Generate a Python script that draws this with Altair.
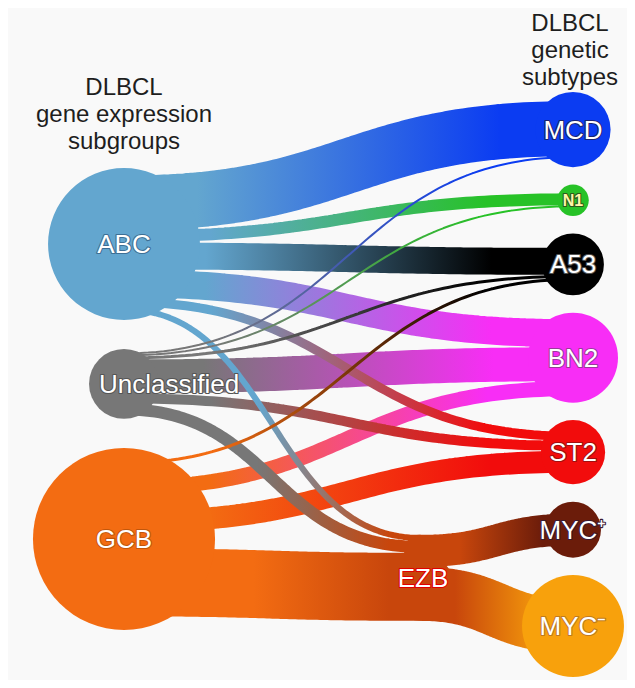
import numpy as np
import pandas as pd
import altair as alt

# ---------------- data ----------------
left_nodes = ["ABC", "Unclassified", "GCB"]
right_nodes = ["MCD", "N1", "A53", "BN2", "ST2", "MYC⁺", "MYC⁻"]
mid_node = "EZB"

# relative case counts, read from the circle areas
circle_nodes = ["ABC", "Unclassified", "GCB", "MCD", "N1", "A53", "BN2", "ST2", "MYC⁺", "MYC⁻"]
circle_cases = [302, 64, 434, 74, 13, 50, 106, 54, 41, 136]

# flows (band widths, in cases)
flow_source = ["ABC"] * 6 + ["Unclassified"] * 6 + ["GCB"] * 4 + ["EZB"] * 2
flow_target = (["MCD", "N1", "A53", "BN2", "ST2", "EZB"] * 2
               + ["A53", "BN2", "ST2", "EZB"] + ["MYC⁺", "MYC⁻"])
flow_cases = [110, 24, 54, 56, 18, 12,
              4, 4, 6, 68, 20, 24,
              6, 30, 44, 136,
              64, 108]

# ---------------- styles ----------------
node_color = {
    "ABC": "#63a6cf", "Unclassified": "#777777", "GCB": "#f36c12",
    "MCD": "#0b3cf2", "N1": "#27c227", "A53": "#000000", "BN2": "#f82df6",
    "ST2": "#f20c0c", "EZB": "#c8460c", "MYC⁺": "#6b1c0a", "MYC⁻": "#f8a10c",
}
outline_color = {
    "ABC": "#3d6f95", "Unclassified": "#555555", "GCB": "#c0560c",
    "MCD": "#1a2470", "N1": "#2d5a1a", "A53": "#555555", "BN2": "#9a3a9a",
    "ST2": "#a01010", "EZB": "#e00000", "MYC⁺": "#3a1a30", "MYC⁻": "#c07a20",
}
FONT = "Liberation Sans"
W, H = 619, 672
K = 76.4          # symbol area (px^2) per case
BAND_PX = 0.5     # band width (px) per case
LEFT_X, MID_X, RIGHT_X = 116, 412, 565
LEFT_SPAN = (160, 622)
RIGHT_SPAN = (84, 669)


def diam(n):
    return float(np.sqrt(K * circle_cases[circle_nodes.index(n)]))


def column(nodes, top, bottom):
    d = [diam(n) for n in nodes]
    gap = (bottom - top - sum(d)) / (len(nodes) - 1)
    out, y = {}, top
    for n, dd in zip(nodes, d):
        out[n] = y + dd / 2
        y += dd + gap
    return out


pos = {}
for n, y in column(left_nodes, *LEFT_SPAN).items():
    pos[n] = (LEFT_X, y)
for n, y in column(right_nodes, *RIGHT_SPAN).items():
    pos[n] = (RIGHT_X, y)
pos[mid_node] = (MID_X, (pos["MYC⁺"][1] + pos["MYC⁻"][1]) / 2)

rank = {n: i for i, n in enumerate(left_nodes + ["MCD", "N1", "A53", "BN2", "ST2", "EZB", "MYC⁺", "MYC⁻"])}
F = len(flow_cases)
width = [c * BAND_PX for c in flow_cases]

src_y, tgt_y = {}, {}
for s in dict.fromkeys(flow_source):
    idx = sorted([i for i in range(F) if flow_source[i] == s], key=lambda i: rank[flow_target[i]])
    tot = sum(width[i] for i in idx)
    span = max(tot, 0.85 * diam(s)) if s in circle_nodes else tot
    gap = (span - tot) / (len(idx) - 1) if len(idx) > 1 else 0
    y = pos[s][1] - span / 2
    for i in idx:
        src_y[i] = y + width[i] / 2
        y += width[i] + gap
for t in dict.fromkeys(flow_target):
    idx = sorted([i for i in range(F) if flow_target[i] == t], key=lambda i: rank[flow_source[i]])
    tot = sum(width[i] for i in idx)
    y = pos[t][1] - tot / 2
    for i in idx:
        tgt_y[i] = y + width[i] / 2
        y += width[i]

rows = []
tt = np.linspace(0, 1, 80)
for i in range(F):
    x0, x1 = pos[flow_source[i]][0], pos[flow_target[i]][0]
    y0, y1 = src_y[i], tgt_y[i]
    fx = 1.5 * tt * (1 - tt) + tt ** 3
    fy = 3 * tt ** 2 - 2 * tt ** 3
    for k, (a, b) in enumerate(zip(x0 + (x1 - x0) * fx, y0 + (y1 - y0) * fy)):
        rows.append({"flow": i, "step": k, "x": a, "y": b, "w": width[i]})
flow_df = pd.DataFrame(rows)

xs = alt.Scale(domain=[0, W], nice=False, zero=False)
ys = alt.Scale(domain=[0, H], nice=False, zero=False, reverse=True)

# widest round cap of the bands that leave the EZB junction
ezb_cap = max(width[i] for i in range(F) if flow_source[i] == "EZB") / 2


def stops(i):
    s, t = flow_source[i], flow_target[i]
    cs, ct = node_color[s], node_color[t]
    if s == "EZB":
        st = [(0, cs), (0.3, cs), (0.75, ct), (1, ct)]
    elif t == "EZB":
        x0, x1, w = pos[s][0], pos[t][0], width[i]
        end = (x1 - ezb_cap - 4 - (x0 - w / 2)) / (x1 - x0 + w)
        st = [(0, cs), (0.45, cs), (end, ct), (1, ct)]
    else:
        st = [(0, cs), (0.2, cs), (0.8, ct), (1, ct)]
    return [alt.GradientStop(offset=float(o), color=c) for o, c in st]


layers = []
for i in sorted(range(F), key=lambda i: -width[i]):
    grad = alt.LinearGradient(gradient="linear", x1=0, x2=1, y1=0, y2=0, stops=stops(i))
    layers.append(
        alt.Chart(flow_df).transform_filter(alt.datum.flow == i)
        .mark_trail(fill=grad, strokeWidth=0)
        .encode(x=alt.X("x:Q", scale=xs, axis=None),
                y=alt.Y("y:Q", scale=ys, axis=None),
                size=alt.Size("w:Q", scale=None),
                order=alt.Order("step:Q"))
    )

node_df = pd.DataFrame({
    "node": circle_nodes,
    "x": [pos[n][0] for n in circle_nodes],
    "y": [pos[n][1] for n in circle_nodes],
    "cases": circle_cases,
})
layers.append(
    alt.Chart(node_df).mark_circle(opacity=1, strokeWidth=0).encode(
        x=alt.X("x:Q", scale=xs, axis=None),
        y=alt.Y("y:Q", scale=ys, axis=None),
        size=alt.Size("cases:Q", scale=alt.Scale(domain=[0, 500], range=[0, 500 * K]), legend=None),
        color=alt.Color("node:N", scale=alt.Scale(domain=circle_nodes,
                                                  range=[node_color[n] for n in circle_nodes]), legend=None),
    )
)

label_nodes = circle_nodes + [mid_node]
label_dx = {"Unclassified": 45, "EZB": 3}
label_df = pd.DataFrame({
    "node": label_nodes,
    "x": [pos[n][0] + label_dx.get(n, 0) for n in label_nodes],
    "y": [pos[n][1] + 1 for n in label_nodes],
})
big = label_df[label_df.node != "N1"]
small = label_df[label_df.node == "N1"]
outline_scale = alt.Scale(domain=label_nodes, range=[outline_color[n] for n in label_nodes])
for df, fs, fw, fillc in [(big, 26, "normal", "white"), (small, 16, "bold", "#fff6a8")]:
    enc = dict(x=alt.X("x:Q", scale=xs, axis=None), y=alt.Y("y:Q", scale=ys, axis=None),
               text="node:N")
    layers.append(
        alt.Chart(df).mark_text(font=FONT, fontSize=fs, fontWeight=fw, align="center",
                                baseline="middle", strokeWidth=2.2, strokeJoin="round")
        .encode(stroke=alt.Stroke("node:N", scale=outline_scale, legend=None),
                fill=alt.Fill("node:N", scale=outline_scale, legend=None), **enc)
    )
    layers.append(
        alt.Chart(df).mark_text(font=FONT, fontSize=fs, fontWeight=fw, align="center",
                                baseline="middle", fill=fillc).encode(**enc)
    )

TITLE_FS, LH = 24, 27
title_df = pd.DataFrame({
    "t": ["DLBCL\ngene expression\nsubgroups", "DLBCL\ngenetic\nsubtypes"],
    "x": [LEFT_X, RIGHT_X - 3],
    "y": [LEFT_SPAN[0] - 19 - 2 * LH, max(RIGHT_SPAN[0] - 19 - 2 * LH, 23)],
})
layers.append(
    alt.Chart(title_df).mark_text(font=FONT, fontSize=TITLE_FS, align="center", baseline="alphabetic",
                                  lineBreak="\n", lineHeight=LH, color="#1e1e1e")
    .encode(x=alt.X("x:Q", scale=xs, axis=None), y=alt.Y("y:Q", scale=ys, axis=None), text="t:N")
)

chart = (
    alt.layer(*layers)
    .resolve_scale(size="independent", color="independent", stroke="independent", fill="independent")
    .properties(width=W, height=H, background="#f9f9f9", padding=0,
                autosize=alt.AutoSizeParams(type="none"))
    .configure_view(strokeWidth=0)
)
chart.save("out.html", embed_options={"renderer": "svg", "actions": False})
